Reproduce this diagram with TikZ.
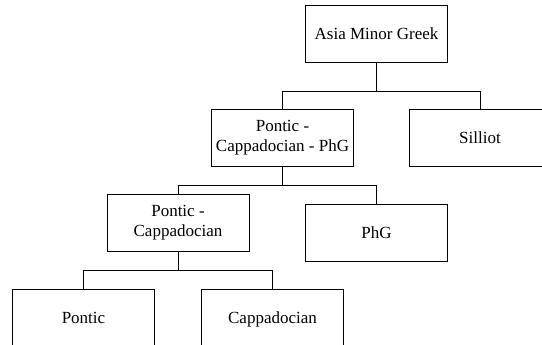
\documentclass[tikz,border=0pt]{standalone}
\usepackage{fontspec}
\setmainfont{Liberation Serif}
\usepackage{tikz}

\begin{document}
\begin{tikzpicture}[x=1pt, y=-1pt]
  \tikzset{
    lang/.style={draw=black,line width=0.9pt,minimum width=142pt,
                 minimum height=57pt,align=center,inner sep=2pt,
                 font=\fontsize{17}{20}\selectfont,
                 execute at begin node={\rule[-4pt]{0pt}{20pt}}},
    branch/.style={draw=black,line width=0.9pt}
  }
  \path[use as bounding box,clip] (0,0) rectangle (542,345);
  % Boxes, top to bottom
  \node[lang] (amg) at (376.5,33.5) {Asia Minor Greek};
  \node[lang] (pcp) at (282.5,138) {Pontic -\\Cappadocian - PhG};
  \node[lang] (sil) at (480,138) {Silliot};
  \node[lang] (pc)  at (178,222.5) {Pontic -\\Cappadocian};
  \node[lang] (phg) at (376.5,232.5) {PhG};
  \node[lang] (pon) at (83.5,317.5) {Pontic};
  \node[lang] (cap) at (272.5,317.5) {Cappadocian};
  % Branch points
  \coordinate (b1) at (376.5,91);
  \coordinate (b2) at (282.5,185);
  \coordinate (b3) at (178,270);
  % Connectors
  \draw[branch] (amg.south) -- (b1) -| (pcp.north);
  \draw[branch] (b1) -| (sil.north);
  \draw[branch] (pcp.south) -- (b2) -| (pc.north);
  \draw[branch] (b2) -| (phg.north);
  \draw[branch] (pc.south) -- (b3) -| (pon.north);
  \draw[branch] (b3) -| (cap.north);
\end{tikzpicture}
\end{document}
